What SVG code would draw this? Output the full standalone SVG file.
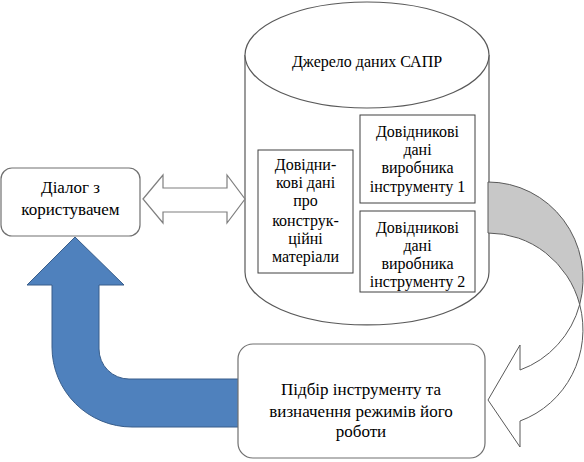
<svg xmlns="http://www.w3.org/2000/svg" width="584" height="462" viewBox="0 0 584 462">
<style>
.t{font-family:'Liberation Serif','DejaVu Serif',serif;fill:#000;text-anchor:middle}
.f17{font-size:17px}
.f16{font-size:16px}
.box{fill:#fff;stroke:#404040;stroke-width:1}
.rbox{fill:#fff;stroke:#707070;stroke-width:1.2}
.cyl{fill:#fff;stroke:#595959;stroke-width:1.2}
.garr{fill:#fff;stroke:#7f7f7f;stroke-width:1.2}
</style>
<rect width="584" height="462" fill="#fff"/>
<g id="source">
<path class="cyl" d="M245,55 L245,272 A122,53 0 0 0 489,272 L489,55"/>
<ellipse class="cyl" cx="367" cy="55" rx="122" ry="53"/>
<text class="t f16" x="367" y="67" font-family="Liberation Serif, DejaVu Serif, serif">Джерело даних САПР</text>
</g>
<g id="materials">
<rect class="box" x="258" y="150" width="95" height="123"/>
<text class="t f16" font-family="Liberation Serif, DejaVu Serif, serif"><tspan x="305.5" y="170">Довідни-</tspan><tspan x="305.5" y="188">кові дані</tspan><tspan x="305.5" y="206">про</tspan><tspan x="305.5" y="226">конструк-</tspan><tspan x="305.5" y="244">ційні</tspan><tspan x="305.5" y="262">матеріали</tspan></text>
</g>
<g id="maker1">
<rect class="box" x="360" y="115" width="115" height="88"/>
<text class="t f16" font-family="Liberation Serif, DejaVu Serif, serif"><tspan x="417.5" y="137">Довідникові</tspan><tspan x="417.5" y="155">дані</tspan><tspan x="417.5" y="173">виробника</tspan><tspan x="417.5" y="192">інструменту 1</tspan></text>
</g>
<g id="maker2">
<rect class="box" x="360" y="211" width="115" height="81"/>
<text class="t f16" font-family="Liberation Serif, DejaVu Serif, serif"><tspan x="417.5" y="233">Довідникові</tspan><tspan x="417.5" y="251">дані</tspan><tspan x="417.5" y="269">виробника</tspan><tspan x="417.5" y="287">інструменту 2</tspan></text>
</g>
<g id="connectors">
<path class="garr" d="M143,199 L163,175 L163,188 L227,188 L227,175 L245,199 L227,223 L227,212 L163,212 L163,223 Z"/>
<path d="M52,285 L27,285 L75,237 L124,285 L99,285 L99,349 A30,30 0 0 0 129,379 L239,379 L239,427 L132,427 A80,80 0 0 1 52,347 Z" fill="#4F81BD" stroke="#385D8A" stroke-width="1"/>
<path d="M488,182 A95,97 0 0 1 579.7,304.5 A95,97 0 0 0 488,233 Z" fill="#c8c8c8" stroke="#595959" stroke-width="1"/>
<path d="M579.7,304.5 A95,97 0 0 1 520,421 L520,447 L488,400 L520,345 L520,370 A95,97 0 0 0 579.7,304.5 Z" fill="#fff" stroke="#595959" stroke-width="1"/>
</g>
<g id="dialog">
<rect class="rbox" x="1" y="168" width="139" height="68" rx="11"/>
<text class="t f17" font-family="Liberation Serif, DejaVu Serif, serif"><tspan x="70.5" y="193">Діалог з</tspan><tspan x="70.5" y="215">користувачем</tspan></text>
</g>
<g id="selection">
<rect class="rbox" x="238" y="344" width="247" height="114" rx="15"/>
<text class="t f17" font-family="Liberation Serif, DejaVu Serif, serif"><tspan x="361" y="395">Підбір інструменту та</tspan><tspan x="361" y="417">визначення режимів його</tspan><tspan x="361" y="437">роботи</tspan></text>
</g>
</svg>
